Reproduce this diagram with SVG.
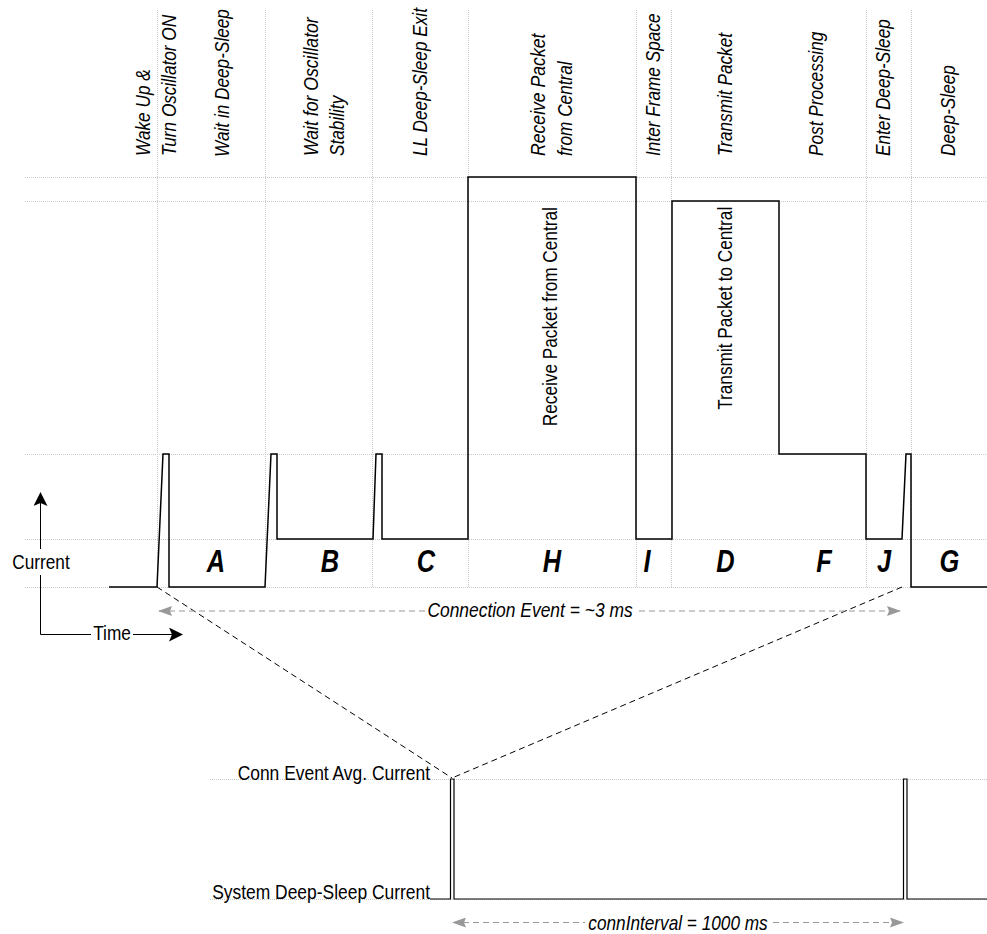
<svg xmlns="http://www.w3.org/2000/svg" width="987" height="934" viewBox="0 0 987 934">
<style>
.grid{stroke:#c8c8c8;stroke-width:1;stroke-dasharray:1 1;fill:none}
.wave{stroke:#000;stroke-width:1.5;fill:none;stroke-linejoin:miter}
.zoom{stroke:#000;stroke-width:1;stroke-dasharray:6 4;fill:none}
.dim{stroke:#999;stroke-width:1;stroke-dasharray:6 4;fill:none}
.axis{stroke:#000;stroke-width:1;fill:none}
text{font-family:"Liberation Sans",Arial,sans-serif;font-size:21px;fill:#000}
.it{font-style:italic}
.big{font-weight:bold;font-style:italic;font-size:31px;text-anchor:middle}
.mid{text-anchor:middle}
.end{text-anchor:end}
</style>
<defs>
<marker id="blk" viewBox="0 0 14 14" refX="13" refY="7" markerWidth="14" markerHeight="14" markerUnits="userSpaceOnUse" orient="auto">
<path d="M0,0 L14,7 L0,14 L3,7 Z" fill="#000"/>
</marker>
<marker id="gry" viewBox="0 0 14 10" refX="13" refY="5" markerWidth="14" markerHeight="10" markerUnits="userSpaceOnUse" orient="auto-start-reverse">
<path d="M0,0 L14,5 L0,10 L2,5 Z" fill="#999"/>
</marker>
</defs>
<rect width="987" height="934" fill="#fff"/>

<g id="gridlines">
<path class="grid" d="M25,177.5H987 M25,201.5H987 M25,454.5H987 M25,539.5H987 M25,587.5H987"/>
<path class="grid" d="M157.5,10V587 M265.5,10V587 M372.5,10V587 M468.5,10V587 M636.5,10V587 M671.5,10V587 M866.5,10V587 M911.5,10V587"/>
<path class="grid" d="M210,779.5H987 M210,899.5H987"/>
</g>

<g id="phase-labels">
<text class="it" transform="translate(150,156) rotate(-90) scale(.82,1)">Wake Up &amp;</text>
<text class="it" transform="translate(176,156) rotate(-90) scale(.82,1)">Turn Oscillator ON</text>
<text class="it" transform="translate(229,157) rotate(-90) scale(.82,1)">Wait in Deep-Sleep</text>
<text class="it" transform="translate(317.5,156) rotate(-90) scale(.84,1)">Wait for Oscillator</text>
<text class="it" transform="translate(344,156) rotate(-90) scale(.82,1)">Stability</text>
<text class="it" transform="translate(426.5,156) rotate(-90) scale(.82,1)">LL Deep-Sleep Exit</text>
<text class="it" transform="translate(545,156) rotate(-90) scale(.84,1)">Receive Packet</text>
<text class="it" transform="translate(571.5,156) rotate(-90) scale(.82,1)">from Central</text>
<text class="it" transform="translate(660,156) rotate(-90) scale(.82,1)">Inter Frame Space</text>
<text class="it" transform="translate(731.5,156) rotate(-90) scale(.82,1)">Transmit Packet</text>
<text class="it" transform="translate(823,156) rotate(-90) scale(.82,1)">Post Processing</text>
<text class="it" transform="translate(890,156) rotate(-90) scale(.82,1)">Enter Deep-Sleep</text>
<text class="it" transform="translate(955,156) rotate(-90) scale(.82,1)">Deep-Sleep</text>
</g>

<g id="waveform">
<path class="wave" d="M109,587 H157 L163,454 H169 V587 H265 L271,454 H277 V539 H373 L376,454 H382 V539 H468 V177 H636 V539 H672 V201 H779 V454 H866 V539 H902 L906,454 H911 V587 H987"/>
<text class="mid" transform="translate(557,316.7) rotate(-90) scale(.82,1)">Receive Packet from Central</text>
<text class="mid" transform="translate(731.5,308.3) rotate(-90) scale(.82,1)">Transmit Packet to Central</text>
</g>

<g id="phase-letters">
<text class="big" transform="translate(216,572) scale(.82,1)">A</text>
<text class="big" transform="translate(330,572) scale(.82,1)">B</text>
<text class="big" transform="translate(426,572) scale(.82,1)">C</text>
<text class="big" transform="translate(552,572) scale(.82,1)">H</text>
<text class="big" transform="translate(647,572) scale(.82,1)">I</text>
<text class="big" transform="translate(725.5,572) scale(.82,1)">D</text>
<text class="big" transform="translate(824,572) scale(.82,1)">F</text>
<text class="big" transform="translate(884,572) scale(.82,1)">J</text>
<text class="big" transform="translate(949.5,572) scale(.82,1)">G</text>
</g>

<g id="axes">
<path class="axis" d="M40.5,634.5 V493" marker-end="url(#blk)"/>
<path class="axis" d="M40.5,634.5 H182" marker-end="url(#blk)"/>
<rect x="10" y="549" width="62" height="26" fill="#fff"/>
<text class="mid" transform="translate(41,569) scale(.82,1)">Current</text>
<rect x="91" y="624" width="42" height="20" fill="#fff"/>
<text class="mid" transform="translate(112,640) scale(.82,1)">Time</text>
</g>

<g id="connectors">
<path class="zoom" d="M157,587 L452,778"/>
<path class="zoom" d="M902,587 L452,778"/>
<path class="dim" d="M159,611 H900" marker-start="url(#gry)" marker-end="url(#gry)"/>
<rect x="425" y="598" width="210" height="24" fill="#fff"/>
<text class="it mid" transform="translate(530,617) scale(.83,1)">Connection Event = ~3 ms</text>
<path class="dim" d="M453,922.5 H903" marker-start="url(#gry)" marker-end="url(#gry)"/>
<rect x="585" y="911" width="186" height="23" fill="#fff"/>
<text class="it mid" transform="translate(678,930) scale(.82,1)">connInterval = 1000 ms</text>
</g>

<g id="system-current">
<text class="end" transform="translate(430,780) scale(.83,1)">Conn Event Avg. Current</text>
<text class="end" transform="translate(430,899) scale(.83,1)">System Deep-Sleep Current</text>
<path class="wave" style="stroke-width:1.2" d="M430,899 H450.5 V779 H454 V899 H903.5 V779 H907 V899 H987"/>
</g>
</svg>
